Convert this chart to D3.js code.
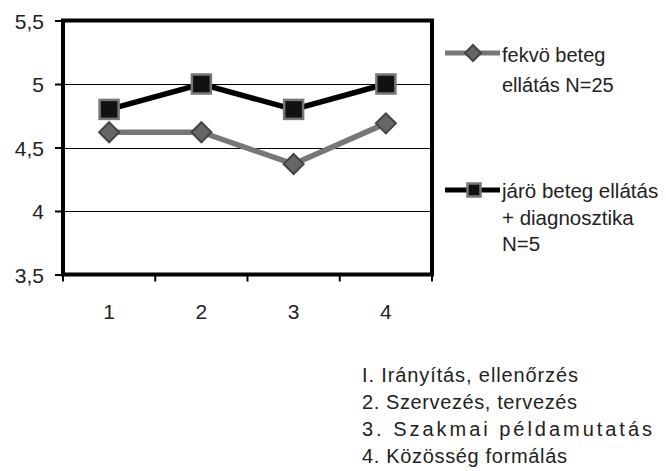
<!DOCTYPE html>
<html><head><meta charset="utf-8">
<script src="https://cdn.jsdelivr.net/npm/d3@7/dist/d3.min.js"></script>
<style>body{margin:0;background:#fff}svg{display:block}</style>
</head><body>
<script>
const categories = ["1","2","3","4"];
const fekvo = [4.62, 4.62, 4.37, 4.69];
const jaro = [4.8, 5.0, 4.8, 5.0];
const yTicks = [3.5, 4, 4.5, 5, 5.5];
const legendFekvo = ["fekvö beteg", "ellátás N=25"];
const legendJaro = ["járö beteg ellátás", "+ diagnosztika", "N=5"];
const notes = ["I. Irányítás, ellenőrzés", "2. Szervezés, tervezés", "3. Szakmai példamutatás", "4. Közösség formálás"];

const W = 666, H = 471;
const svg = d3.select("body").append("svg").attr("width", W).attr("height", H);
const L = 63, R = 432, T = 20.5, B = 274.5;
const x = d3.scaleBand().domain(categories).range([L, R]);
const y = d3.scaleLinear().domain([3.5, 5.5]).range([B, T]);
const font = "Liberation Sans, Arial, sans-serif";

// gridlines
svg.append("g").selectAll("line").data(yTicks.slice(1, -1)).join("line")
  .attr("x1", L).attr("x2", R).attr("y1", d => Math.round(y(d)) + 0.5).attr("y2", d => Math.round(y(d)) + 0.5)
  .attr("stroke", "#000").attr("stroke-width", 1);

// frame
svg.append("rect").attr("x", L).attr("y", T).attr("width", R - L).attr("height", B - T)
  .attr("fill", "none").attr("stroke", "#000").attr("stroke-width", 4);

// y axis
const yAxis = d3.axisLeft(y).tickValues(yTicks).tickSize(8).tickFormat(d => String(d).replace(".", ","));
const ya = svg.append("g").attr("transform", `translate(${L},0)`).call(yAxis);
ya.select(".domain").remove();
ya.selectAll(".tick line").attr("stroke", "#000").attr("stroke-width", 2);
ya.selectAll(".tick text").attr("font-family", font).attr("font-size", 21).attr("fill", "#222")
  .attr("x", -19).attr("dy", "0.36em");

// x axis
const xAxis = d3.axisBottom(x).tickSize(0);
const xa = svg.append("g").attr("transform", `translate(0,${B})`).call(xAxis);
xa.select(".domain").remove();
xa.selectAll(".tick text").attr("font-family", font).attr("font-size", 21).attr("fill", "#222")
  .attr("y", 44).attr("dy", 0);
// x tick marks at band boundaries
const bounds = categories.map(c => x(c)).concat([R]);
svg.append("g").selectAll("line").data(bounds).join("line")
  .attr("x1", d => d).attr("x2", d => d).attr("y1", B).attr("y2", B + 7)
  .attr("stroke", "#000").attr("stroke-width", 2);

const cx = (d, i) => x(categories[i]) + x.bandwidth() / 2;
const line = d3.line().x((d, i) => cx(d, i)).y(d => y(d));

// series lines
svg.append("path").datum(fekvo).attr("d", line).attr("fill", "none").attr("stroke", "#777").attr("stroke-width", 5.5);
svg.append("path").datum(jaro).attr("d", line).attr("fill", "none").attr("stroke", "#000").attr("stroke-width", 5.5);

function diamond(g, px, py, s) {
  g.append("path").attr("d", `M${px},${py - s}L${px + s},${py}L${px},${py + s}L${px - s},${py}Z`)
    .attr("fill", "#666").attr("stroke", "#444").attr("stroke-width", 2);
}
function square(g, px, py, s) {
  g.append("rect").attr("x", px - s).attr("y", py - s).attr("width", 2 * s).attr("height", 2 * s)
    .attr("fill", "#111").attr("stroke", "#777").attr("stroke-width", 2.5);
}
const mg = svg.append("g");
fekvo.forEach((d, i) => diamond(mg, cx(d, i), y(d), 10));
jaro.forEach((d, i) => square(mg, cx(d, i), y(d), 9.5));

// legend
const lg = svg.append("g");
lg.append("line").attr("x1", 445).attr("x2", 500).attr("y1", 53).attr("y2", 53).attr("stroke", "#777").attr("stroke-width", 5);
diamond(lg, 473, 53, 8);
lg.append("line").attr("x1", 445).attr("x2", 500).attr("y1", 190).attr("y2", 190).attr("stroke", "#000").attr("stroke-width", 5);
square(lg, 474, 190, 6.5);
lg.selectAll("text.a").data(legendFekvo).join("text").attr("class", "a")
  .attr("x", 502).attr("y", (d, i) => 62 + i * 30).text(d => d)
  .attr("font-family", font).attr("font-size", 20).attr("fill", "#222");
lg.selectAll("text.b").data(legendJaro).join("text").attr("class", "b")
  .attr("x", 502).attr("y", (d, i) => 198 + i * 26.5).text(d => d)
  .attr("font-family", font).attr("font-size", 20.5).attr("fill", "#222");

// notes
const noteWidths = [216, 215, 290, 205];
svg.append("g").selectAll("text").data(notes).join("text")
  .attr("x", 362).attr("y", (d, i) => 382 + i * 27).text(d => d)
  .attr("textLength", (d, i) => noteWidths[i]).attr("lengthAdjust", "spacing")
  .attr("font-family", font).attr("font-size", 20).attr("fill", "#222");
</script>
</body></html>
